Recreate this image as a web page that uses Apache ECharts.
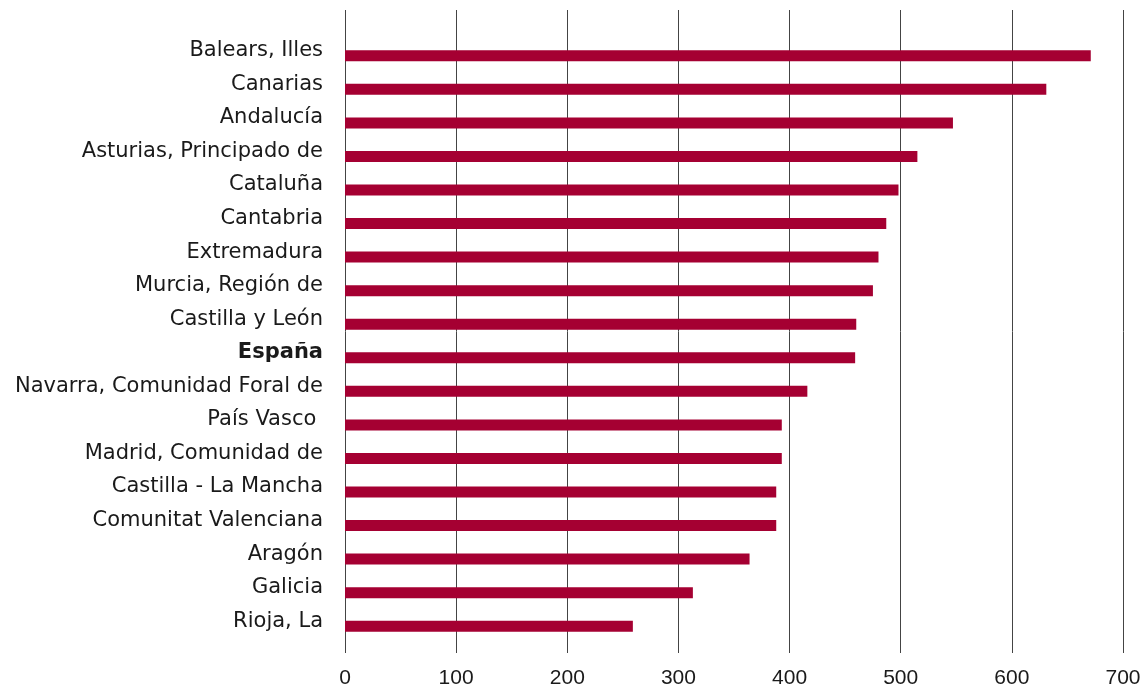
<!DOCTYPE html>
<html>
<head>
<meta charset="utf-8">
<script src="https://cdn.jsdelivr.net/npm/echarts@6/dist/echarts.min.js"></script>
<style>html,body{margin:0;padding:0;background:#fff;}#c{width:1141px;height:687px;}</style>
</head>
<body>
<div id="c"></div>
<script>
const categories = [
  "Balears, Illes", "Canarias", "Andalucía", "Asturias, Principado de", "Cataluña",
  "Cantabria", "Extremadura", "Murcia, Región de", "Castilla y León", "España",
  "Navarra, Comunidad Foral de", "País Vasco ", "Madrid, Comunidad de", "Castilla - La Mancha",
  "Comunitat Valenciana", "Aragón", "Galicia", "Rioja, La"
];
const values = [671, 631, 547, 515, 498, 487, 480, 475, 460, 459, 416, 393, 393, 388, 388, 364, 313, 259];
const xTicks = [0, 100, 200, 300, 400, 500, 600, 700];

const FONT = "'DejaVu Sans', sans-serif";
const NUMFONT = "'Liberation Sans', Arial, sans-serif";
const chart = echarts.init(document.getElementById('c'), null, {renderer: 'canvas'});
chart.setOption({
  animation: false,
  grid: [
    {left: 345, right: 18, top: 10, bottom: 34, outerBoundsMode: 'none', containLabel: false},
    {left: 345, right: 18, top: 39, bottom: 44, outerBoundsMode: 'none', containLabel: false}
  ],
  xAxis: [
    {
      gridIndex: 0, type: 'value', min: xTicks[0], max: xTicks[xTicks.length - 1], interval: 100,
      axisLine: {show: false}, axisTick: {show: false},
      axisLabel: {color: '#1a1a1a', fontSize: 21, fontFamily: NUMFONT, margin: 15},
      splitLine: {show: true, lineStyle: {color: '#444', width: 1}}
    },
    {
      gridIndex: 1, type: 'value', min: xTicks[0], max: xTicks[xTicks.length - 1],
      show: false, splitLine: {show: false}
    }
  ],
  yAxis: [
    {gridIndex: 0, type: 'value', show: false, splitLine: {show: false}},
    {
      gridIndex: 1, type: 'category', data: categories, inverse: true,
      axisLine: {show: false}, axisTick: {show: false},
      axisLabel: {
        color: '#1a1a1a', fontSize: 21, fontFamily: FONT, margin: 22,
        padding: [0, 0, 10, 0],
        formatter: function (v) { return v.trim() === 'España' ? '{b|' + v + '}' : v; },
        rich: {b: {fontWeight: 'bold', fontSize: 21, fontFamily: FONT, color: '#1a1a1a'}}
      }
    }
  ],
  series: [{
    type: 'bar', xAxisIndex: 1, yAxisIndex: 1, data: values,
    barWidth: 11, itemStyle: {color: '#a50032'}
  }]
});
</script>
</body>
</html>
